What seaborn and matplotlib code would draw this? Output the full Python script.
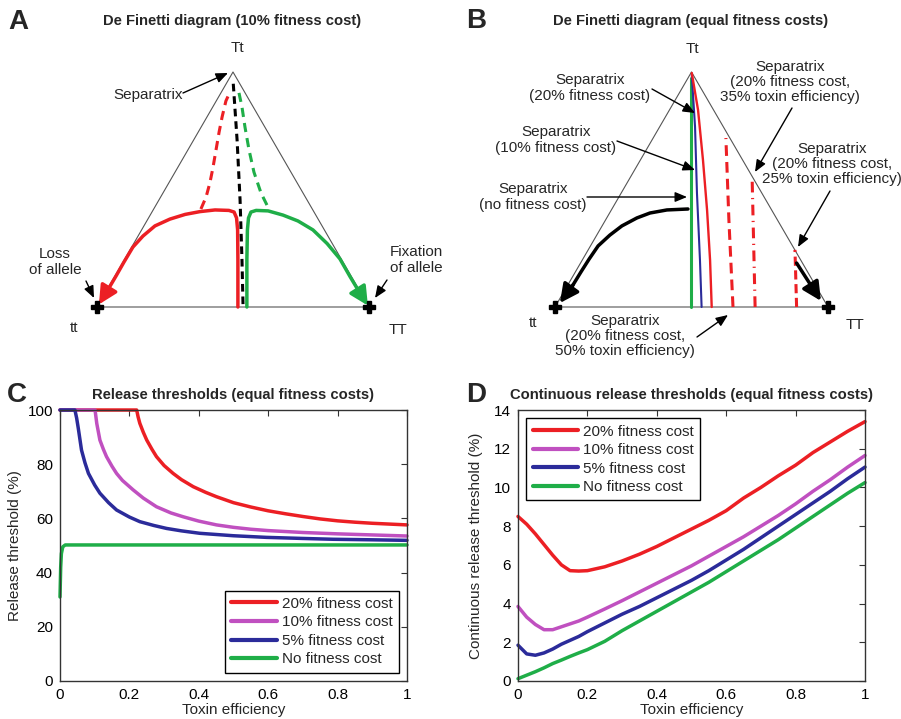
import numpy as np
import pandas as pd
import matplotlib
matplotlib.use("Agg")
import matplotlib.pyplot as plt
import matplotlib.transforms as mtransforms
from matplotlib.lines import Line2D
import seaborn as sns

# ---------------- data ----------------
# Panel A (10% fitness cost): (T allele frequency, Tt heterozygote frequency)
a_loss_p = [0.518, 0.518, 0.517, 0.513, 0.504, 0.485, 0.434, 0.379, 0.324, 0.268, 0.213, 0.169, 0.132, 0.099, 0.070, 0.044, 0.022, 0.007]
a_loss_h = [0.000, 0.200, 0.328, 0.379, 0.404, 0.411, 0.413, 0.406, 0.394, 0.374, 0.345, 0.302, 0.255, 0.191, 0.132, 0.081, 0.038, 0.011]
a_loss_dash_p = [0.382, 0.401, 0.415, 0.426, 0.4375, 0.449, 0.460, 0.474, 0.489]
a_loss_dash_h = [0.417, 0.468, 0.528, 0.591, 0.668, 0.745, 0.809, 0.877, 0.915]
a_sep_p = [0.501, 0.515, 0.526, 0.533, 0.537]
a_sep_h = [0.950, 0.711, 0.455, 0.200, 0.000]
a_fix_dash_p = [0.522, 0.533, 0.544, 0.559, 0.577, 0.603, 0.632]
a_fix_dash_h = [0.911, 0.851, 0.766, 0.668, 0.574, 0.485, 0.417]
a_fix_p = [0.551, 0.551, 0.553, 0.557, 0.566, 0.585, 0.629, 0.684, 0.739, 0.794, 0.846, 0.893, 0.930, 0.960, 0.982, 0.996]
a_fix_h = [0.000, 0.200, 0.328, 0.379, 0.404, 0.411, 0.409, 0.391, 0.366, 0.328, 0.270, 0.205, 0.130, 0.072, 0.030, 0.006]

# Panel B (equal fitness costs): separatrices
b_sep0_p = [0.497, 0.497]
b_sep0_h = [0.000, 0.975]
b_sep5_p = [0.537, 0.531, 0.520, 0.513, 0.501]
b_sep5_h = [0.000, 0.200, 0.485, 0.766, 0.987]
b_sep20_p = [0.574, 0.568, 0.557, 0.542, 0.524, 0.501]
b_sep20_h = [0.000, 0.200, 0.413, 0.626, 0.838, 0.996]
b_tox50_p = [0.652, 0.637, 0.626]
b_tox50_h = [0.000, 0.370, 0.719]
b_tox35_p = [0.733, 0.722]
b_tox35_h = [0.000, 0.553]
b_tox25_p = [0.885, 0.879]
b_tox25_h = [0.000, 0.243]
b_loss_p = [0.487, 0.410, 0.348, 0.300, 0.245, 0.201, 0.158, 0.125, 0.095, 0.066, 0.040, 0.018]
b_loss_h = [0.417, 0.413, 0.400, 0.379, 0.345, 0.306, 0.260, 0.204, 0.149, 0.094, 0.047, 0.017]
b_fix_p = [0.885, 0.974]
b_fix_h = [0.187, 0.026]

# Panel C: release thresholds (%)
c_x_cost20 = [0, 0.221, 0.225, 0.230, 0.24, 0.25, 0.265, 0.278, 0.30, 0.326, 0.35, 0.384, 0.42, 0.451, 0.50, 0.55, 0.60, 0.65, 0.70, 0.75, 0.80, 0.85, 0.90, 0.95, 1.0]
c_y_cost20 = [100, 100, 97.5, 95.1, 91.8, 88.9, 85.5, 82.8, 79.5, 76.6, 74.3, 71.7, 69.6, 68.0, 65.8, 64.2, 62.8, 61.7, 60.7, 59.8, 59.1, 58.6, 58.2, 57.9, 57.6]
c_x_cost10 = [0, 0.101, 0.106, 0.115, 0.125, 0.134, 0.15, 0.163, 0.18, 0.211, 0.24, 0.278, 0.32, 0.355, 0.40, 0.451, 0.50, 0.55, 0.60, 0.70, 0.80, 0.90, 1.0]
c_y_cost10 = [100, 100, 95, 88.9, 85.5, 82.8, 79.2, 76.6, 74.0, 70.5, 67.5, 64.3, 62.0, 60.6, 59.0, 57.6, 56.7, 56.0, 55.5, 54.8, 54.3, 53.9, 53.5]
c_x_cost5 = [0, 0.043, 0.048, 0.053, 0.062, 0.072, 0.082, 0.10, 0.115, 0.14, 0.163, 0.20, 0.230, 0.27, 0.307, 0.35, 0.403, 0.50, 0.595, 0.70, 0.787, 0.90, 1.0]
c_y_cost5 = [100, 100, 97, 93, 85.2, 80.5, 76.6, 72.3, 69.3, 65.8, 63.1, 60.5, 58.8, 57.4, 56.3, 55.4, 54.5, 53.6, 53.0, 52.6, 52.3, 52.1, 51.9]
c_x_cost0 = [0, 0.002, 0.004, 0.008, 0.015, 1.0]
c_y_cost0 = [31, 42, 47, 49.5, 50.2, 50.2]

# Panel D: continuous release thresholds (%)
d_x = [0, 0.025, 0.05, 0.075, 0.1, 0.125, 0.15, 0.175, 0.2, 0.25, 0.3, 0.35, 0.4, 0.45, 0.5,
       0.55, 0.6, 0.65, 0.7, 0.75, 0.8, 0.85, 0.9, 0.95, 1.0]
d_cost20 = [8.5, 8.1, 7.6, 7.05, 6.5, 6.0, 5.7, 5.68, 5.7, 5.9, 6.2, 6.55, 6.95, 7.4, 7.85,
            8.3, 8.8, 9.45, 10.0, 10.6, 11.15, 11.8, 12.35, 12.9, 13.4]
d_cost10 = [3.85, 3.3, 2.92, 2.65, 2.65, 2.8, 2.95, 3.1, 3.3, 3.72, 4.15, 4.6, 5.05, 5.5, 5.95,
            6.45, 6.95, 7.45, 8.0, 8.55, 9.15, 9.8, 10.4, 11.05, 11.65]
d_cost5 = [1.85, 1.4, 1.33, 1.45, 1.65, 1.9, 2.1, 2.3, 2.55, 3.0, 3.45, 3.85, 4.3, 4.75, 5.2,
           5.7, 6.25, 6.8, 7.4, 8.0, 8.6, 9.2, 9.8, 10.45, 11.05]
d_cost0 = [0.12, 0.3, 0.48, 0.68, 0.9, 1.08, 1.27, 1.45, 1.62, 2.05, 2.6, 3.1, 3.6, 4.1, 4.6,
           5.1, 5.65, 6.2, 6.75, 7.3, 7.9, 8.5, 9.1, 9.7, 10.25]

series_labels = ["20% fitness cost", "10% fitness cost", "5% fitness cost", "No fitness cost"]
c_xticks = [0, 0.2, 0.4, 0.6, 0.8, 1]
c_xticklabels = ["0", "0.2", "0.4", "0.6", "0.8", "1"]
c_yticks = [0, 20, 40, 60, 80, 100]
d_yticks = [0, 2, 4, 6, 8, 10, 12, 14]

# ---------------- style ----------------
sns.set_theme(style="white")
plt.rcParams["font.family"] = ["Liberation Sans", "DejaVu Sans"]
plt.rcParams["axes.edgecolor"] = "#333333"

RED, MAG, BLUE, GREEN = "#ec1f24", "#c050c0", "#2b2b9a", "#1fae48"
palette = dict(zip(series_labels, [RED, MAG, BLUE, GREEN]))
FS = 11
TFS = 10.6

W, H = 901, 719
fig = plt.figure(figsize=(W / 100, H / 100), dpi=100)
fig.patch.set_facecolor("white")
PX = mtransforms.Affine2D().scale(1 / W, -1 / H).translate(0, 1) + fig.transFigure


def axes_px(x0, y0, x1, y1):
    return fig.add_axes([x0 / W, 1 - y1 / H, (x1 - x0) / W, (y1 - y0) / H])


def ternary_axes(x0, y0, x1, y1, x_tt, x_TT, y_base, y_apex):
    ax = axes_px(x0, y0, x1, y1)
    w = x_TT - x_tt
    h = y_base - y_apex
    ax.set_xlim((x0 - x_tt) / w, (x1 - x_tt) / w)
    ax.set_ylim((y_base - y1) / h, (y_base - y0) / h)
    ax.axis("off")
    ax.plot([0, 0.5, 1, 0], [0, 1, 0, 0], color="#555555", lw=0.8, zorder=1)
    ax.plot([0, 1], [0, 0], ls="none", marker="P", ms=9, color="black", zorder=6)
    return ax


def txt(ax, x, y, s, **kw):
    kw.setdefault("fontsize", FS)
    kw.setdefault("ha", "center")
    kw.setdefault("va", "center")
    kw.setdefault("linespacing", 1.1)
    ax.text(x, y, s, transform=PX, **kw)


def parrow(ax, frm, to, lw=1.0):
    ax.annotate("", xy=to, xycoords=PX, xytext=frm, textcoords=PX,
                arrowprops=dict(arrowstyle="-|>,head_length=0.6,head_width=0.25",
                                color="black", lw=lw, shrinkA=0, shrinkB=0,
                                mutation_scale=12),
                annotation_clip=False)


def curve_head(ax, p, h, color, lw=2.5):
    ax.annotate("", xy=(p[-1], h[-1]), xytext=(p[-3], h[-3]),
                arrowprops=dict(arrowstyle="-|>,head_length=0.7,head_width=0.35",
                                color=color, lw=lw, shrinkA=0, shrinkB=0,
                                mutation_scale=16),
                annotation_clip=False, zorder=5)


# ---------------- Panel A ----------------
axA = ternary_axes(0, 0, 450, 340, 97, 369, 307, 72)
axA.plot(a_loss_dash_p, a_loss_dash_h, color=RED, lw=2.2, ls=(0, (3, 2)), zorder=3)
axA.plot(a_fix_dash_p, a_fix_dash_h, color=GREEN, lw=2.2, ls=(0, (3, 2)), zorder=3)
axA.plot(a_sep_p, a_sep_h, color="black", lw=2.2, ls=(0, (2.5, 1.6)), zorder=4)
axA.plot(a_loss_p[:-1], a_loss_h[:-1], color=RED, lw=2.5, zorder=3, solid_capstyle="round")
axA.plot(a_fix_p[:-1], a_fix_h[:-1], color=GREEN, lw=2.5, zorder=3, solid_capstyle="round")
curve_head(axA, a_loss_p, a_loss_h, RED)
curve_head(axA, a_fix_p, a_fix_h, GREEN)

txt(axA, 18, 22, "A", fontsize=20, fontweight="bold")
txt(axA, 232, 21, "De Finetti diagram (10% fitness cost)", fontsize=TFS, fontweight="bold")
txt(axA, 237, 48, "Tt")
txt(axA, 74, 328, "tt")
txt(axA, 398, 330, "TT")
txt(axA, 148, 95, "Separatrix")
parrow(axA, (183, 93), (228, 73))
txt(axA, 55, 262, "Loss\nof allele")
parrow(axA, (86, 281), (94, 298))
txt(axA, 416, 260, "Fixation\nof allele")
parrow(axA, (387, 280), (375, 298))

# ---------------- Panel B ----------------
axB = ternary_axes(450, 0, 901, 340, 555, 828, 307, 72)
axB.plot(b_sep0_p, b_sep0_h, color=GREEN, lw=2.2, zorder=3)
axB.plot(b_sep5_p, b_sep5_h, color=BLUE, lw=1.5, zorder=3)
axB.plot(b_sep20_p, b_sep20_h, color=RED, lw=1.7, zorder=3)
axB.plot(b_tox50_p, b_tox50_h, color=RED, lw=2.2, ls=(0, (3.5, 2)), zorder=3)
axB.plot(b_tox35_p, b_tox35_h, color=RED, lw=2.2, ls=(0, (3.5, 1.8, 0.4, 1.8)), zorder=3)
axB.plot(b_tox25_p, b_tox25_h, color=RED, lw=2.2, ls=(0, (3, 1.5)), zorder=3)
axB.plot(b_loss_p[:-1], b_loss_h[:-1], color="black", lw=2.5, zorder=3)
curve_head(axB, b_loss_p, b_loss_h, "black")
axB.annotate("", xy=(b_fix_p[-1], b_fix_h[-1]), xytext=(b_fix_p[0], b_fix_h[0]),
             arrowprops=dict(arrowstyle="-|>,head_length=0.7,head_width=0.35",
                             color="black", lw=2.5, shrinkA=0, shrinkB=0, mutation_scale=16),
             zorder=5)

txt(axB, 476, 21, "B", fontsize=20, fontweight="bold")
txt(axB, 691, 21, "De Finetti diagram (equal fitness costs)", fontsize=TFS, fontweight="bold")
txt(axB, 692, 49, "Tt")
txt(axB, 533, 323, "tt")
txt(axB, 855, 325, "TT")
txt(axB, 590, 88, "Separatrix\n(20% fitness cost)")
parrow(axB, (652, 89), (695, 113))
txt(axB, 556, 140, "Separatrix\n(10% fitness cost)")
parrow(axB, (617, 141), (695, 170))
txt(axB, 533, 197, "Separatrix\n(no fitness cost)")
parrow(axB, (587, 197), (687, 197))
txt(axB, 790, 82, "Separatrix\n(20% fitness cost,\n35% toxin efficiency)")
parrow(axB, (792, 108), (755, 172))
txt(axB, 832, 164, "Separatrix\n(20% fitness cost,\n25% toxin efficiency)")
parrow(axB, (830, 191), (798, 247))
txt(axB, 625, 336, "Separatrix\n(20% fitness cost,\n50% toxin efficiency)")
parrow(axB, (697, 337), (728, 315))


# ---------------- Panels C & D ----------------
def style_axes(ax):
    for s in ax.spines.values():
        s.set_visible(True)
        s.set_color("#333333")
        s.set_linewidth(1.0)
    ax.tick_params(direction="in", length=4, width=0.8, top=True, right=True,
                   labelsize=FS, pad=5, colors="#333333", labelcolor="black")


def legend(ax, loc):
    handles = [Line2D([], [], color=palette[s], lw=3) for s in series_labels]
    lg = ax.legend(handles, series_labels, loc=loc, fontsize=FS, frameon=True,
                   fancybox=False, framealpha=1, edgecolor="black",
                   handlelength=3.0, handletextpad=0.3, labelspacing=0.3,
                   borderpad=0.4, borderaxespad=0.55)
    lg.get_frame().set_linewidth(1.0)


dfC = pd.concat([
    pd.DataFrame({"x": c_x_cost20, "y": c_y_cost20, "series": series_labels[0]}),
    pd.DataFrame({"x": c_x_cost10, "y": c_y_cost10, "series": series_labels[1]}),
    pd.DataFrame({"x": c_x_cost5, "y": c_y_cost5, "series": series_labels[2]}),
    pd.DataFrame({"x": c_x_cost0, "y": c_y_cost0, "series": series_labels[3]}),
], ignore_index=True)

axC = axes_px(60, 410, 407, 681)
sns.lineplot(data=dfC, x="x", y="y", hue="series", hue_order=series_labels,
             palette=palette, lw=2.5, estimator=None, sort=False, legend=False, ax=axC)
for ln in axC.lines:
    ln.set_clip_on(False)
axC.set_xlim(0, 1)
axC.set_ylim(0, 100)
axC.set_xticks(c_xticks)
axC.set_xticklabels(c_xticklabels)
axC.set_yticks(c_yticks)
style_axes(axC)
axC.set_xlabel("Toxin efficiency", fontsize=FS, labelpad=1)
axC.set_ylabel("Release threshold (%)", fontsize=FS, labelpad=4)
axC.set_title("Release thresholds (equal fitness costs)", fontsize=TFS, fontweight="bold", pad=8)
legend(axC, "lower right")
txt(axC, 17, 395, "C", fontsize=20, fontweight="bold")

dfD = pd.concat([
    pd.DataFrame({"x": d_x, "y": d_cost20, "series": series_labels[0]}),
    pd.DataFrame({"x": d_x, "y": d_cost10, "series": series_labels[1]}),
    pd.DataFrame({"x": d_x, "y": d_cost5, "series": series_labels[2]}),
    pd.DataFrame({"x": d_x, "y": d_cost0, "series": series_labels[3]}),
], ignore_index=True)

axD = axes_px(518, 410, 865, 681)
sns.lineplot(data=dfD, x="x", y="y", hue="series", hue_order=series_labels,
             palette=palette, lw=2.5, estimator=None, sort=False, legend=False, ax=axD)
for ln in axD.lines:
    ln.set_clip_on(False)
axD.set_xlim(0, 1)
axD.set_ylim(0, 14)
axD.set_xticks(c_xticks)
axD.set_xticklabels(c_xticklabels)
axD.set_yticks(d_yticks)
style_axes(axD)
axD.set_xlabel("Toxin efficiency", fontsize=FS, labelpad=1)
axD.set_ylabel("Continuous release threshold (%)", fontsize=FS, labelpad=8)
axD.set_title("Continuous release thresholds (equal fitness costs)", fontsize=TFS, fontweight="bold", pad=8)
legend(axD, "upper left")
txt(axD, 476, 395, "D", fontsize=20, fontweight="bold")

fig.savefig("out.png", dpi=100, facecolor="white")
